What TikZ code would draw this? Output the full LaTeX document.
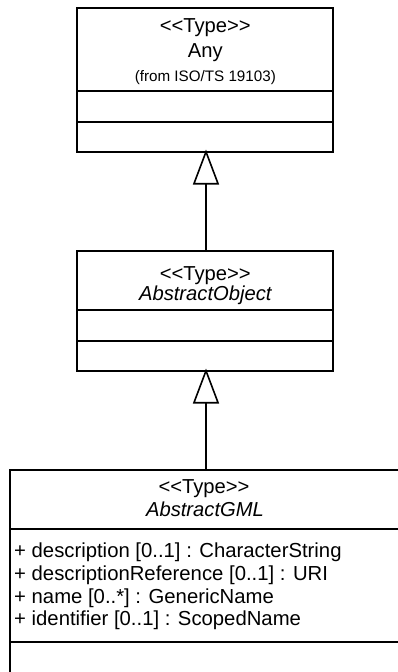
\documentclass[tikz,border=0pt]{standalone}
\usepackage{fontspec}
\setmainfont{Liberation Sans}[Ligatures=TeXOff]
\usetikzlibrary{arrows.meta}
\newcommand{\stereo}{<<Type>>}
\begin{document}
\begin{tikzpicture}[x=1pt,y=-1pt,
  box/.style={draw=black,line width=1.8pt,anchor=north west,inner sep=0pt,outer sep=0pt},
  divider/.style={draw=black,line width=1.8pt},
  big/.style={font=\fontsize{20.2}{23}\selectfont,inner sep=0pt,anchor=base},
  attr/.style={font=\fontsize{20.3}{23}\selectfont,inner sep=0pt,anchor=base west},
  small/.style={font=\fontsize{15.2}{18}\selectfont,inner sep=0pt,anchor=base},
  gen/.style={draw=black,line width=1.8pt,shorten >=-2.5pt,-{Triangle[open,length=35pt,width=26pt,fill=white,line width=1.6pt]}}]
\useasboundingbox (0,0) rectangle (398,672);
\begin{scope}
\clip (0,0) rectangle (398,672);
% top class
\node[box,minimum width=256pt,minimum height=144pt] (any) at (77,8) {};
\draw[divider] (77,91) -- (333,91);
\draw[divider] (77,122) -- (333,122);
\node[big] (anyS) at (205.3,32.7) {\stereo};
\node[big] (anyN) at (205.3,57.7) {Any};
\node[small] (anyF) at (205.3,81.7) {(from ISO/TS 19103)};
% middle class
\node[box,minimum width=256pt,minimum height=120pt] (obj) at (77,251) {};
\draw[divider] (77,310) -- (333,310);
\draw[divider] (77,341) -- (333,341);
\node[big] (objS) at (205.3,280.7) {\stereo};
\node[big] (objN) at (205.3,300) {\itshape AbstractObject};
% bottom class (extends beyond the frame)
\node[box,minimum width=420pt,minimum height=260pt] (gml) at (10,470) {};
\draw[divider] (10,529) -- (430,529);
\draw[divider] (10,642) -- (430,642);
\node[big] (gmlS) at (204,493.3) {\stereo};
\node[big] (gmlN) at (205,516.7) {\itshape AbstractGML};
\node[attr] (a1) at (14,557.7) {+ description [0..1] : CharacterString};
\node[attr] (a2) at (14,580.4) {+ descriptionReference [0..1] : URI};
\node[attr] (a3) at (14,603.1) {+ name [0..*] : GenericName};
\node[attr] (a4) at (14,625.8) {+ identifier [0..1] : ScopedName};
\end{scope}
% generalizations
\draw[gen] ([xshift=1pt]obj.north) -- ([xshift=1pt]any.south);
\draw[gen] (gml.north -| obj.south) ++(1,0) coordinate (gtop) -- ([xshift=1pt]obj.south);
\end{tikzpicture}
\end{document}
